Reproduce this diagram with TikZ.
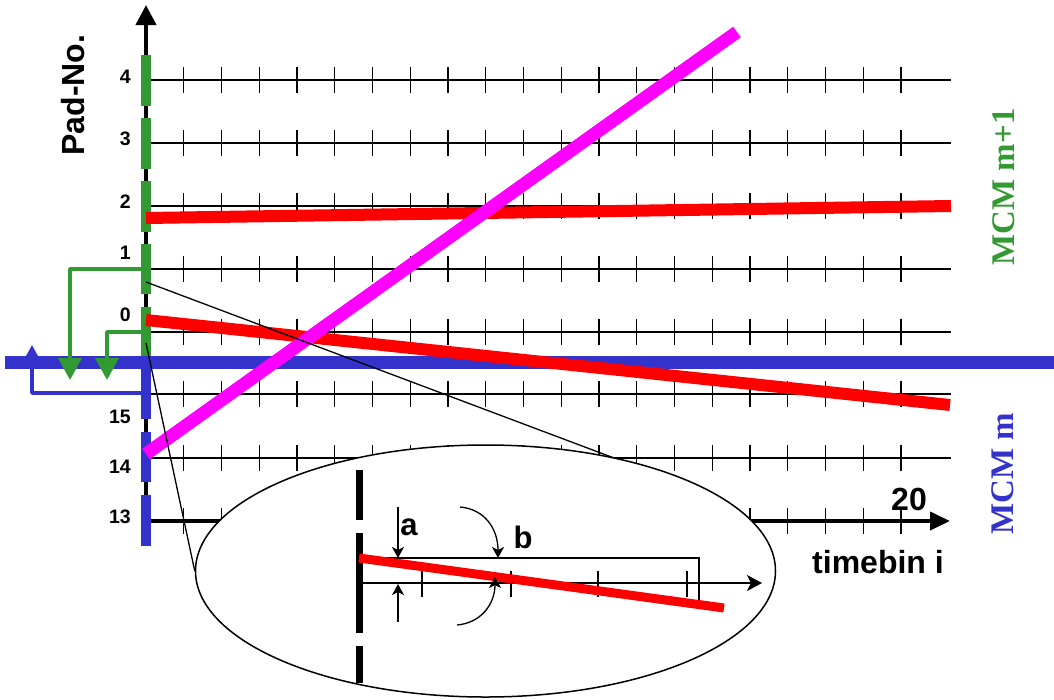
\documentclass[tikz,border=0pt]{standalone}
\usepackage{fontspec}
\setmainfont{Liberation Sans}
\newfontfamily\mcmfont{Liberation Serif}
\usetikzlibrary{arrows.meta,shapes.geometric}
\definecolor{padgreen}{RGB}{51,153,51}
\definecolor{padblue}{RGB}{51,51,204}
\definecolor{trkred}{RGB}{255,0,0}
\definecolor{trkmag}{RGB}{255,0,255}
\begin{document}
\begin{tikzpicture}[x=1pt,y=-1pt,
  gridline/.style={line width=1.3pt},
  tickmark/.style={line width=1.3pt},
  axisline/.style={line width=4pt},
  padseg/.style={line width=10pt},
  track/.style={line width=12pt},
  bracket/.style={line width=3.8pt, line join=round},
  bigtip/.style={-{Triangle[length=22pt,width=23pt]}},
  smalltip/.style={-{Stealth[length=11pt,width=12pt,inset=3pt]}},
  thinline/.style={line width=1.3pt},
  padlbl/.style={font=\fontsize{19.5}{22}\selectfont\bfseries, anchor=base east, inner sep=0pt},
  biglbl/.style={font=\fontsize{32}{36}\selectfont\bfseries, inner sep=0pt},
  midlbl/.style={font=\fontsize{31}{34}\selectfont\bfseries, inner sep=0pt, anchor=base},
  mcmlbl/.style={font=\mcmfont\fontsize{33}{36}\selectfont\bfseries, rotate=90, inner sep=0pt}
]
\useasboundingbox (0,0) rectangle (1054,699);

% grid rows
\foreach \r in {80,143,206,269,332,394,458} {
  \draw[gridline] (146,\r) -- (951,\r);
  \foreach \k in {1,...,20}
    \draw[tickmark] ({146+\k*37.75},{\r-13}) -- ({146+\k*37.75},{\r+13});
}
% timebin axis
\coordinate (torig) at (146,521);
\coordinate (tend) at (950,521);
\draw[axisline,-{Triangle[length=20pt,width=18pt]}] (torig) -- (tend);
\foreach \k in {1,...,20}
  \draw[tickmark] ({146+\k*37.75},508) -- ({146+\k*37.75},534);
% pad axis
\coordinate (porig) at (146,546);
\coordinate (pend) at (146,5);
\draw[axisline,-{Triangle[length=20pt,width=20pt]}] (porig) -- (pend);

% pad segments
\foreach \a/\b in {55/106,118/169,181/232,244/294,307/357}
  \draw[padseg,padgreen] (146,\a) -- (146,\b);
\foreach \a/\b in {369/419,432/482,495/546}
  \draw[padseg,padblue] (146,\a) -- (146,\b);

% blue bracket (under the MCM boundary)
\coordinate (bb1) at (146,393);
\coordinate (bb2) at (32,393);
\coordinate (bb3) at (32,345);
\draw[bracket,padblue,bigtip] (bb1) -- (bb2) -- (bb3);

% MCM boundary
\coordinate (bl1) at (5,362);
\coordinate (bl2) at (1054,362);
\draw[line width=13pt,padblue] (bl1) -- (bl2);

% green brackets
\coordinate (gA1) at (146,269);
\coordinate (gA2) at (70,269);
\coordinate (gA3) at (70,380);
\coordinate (gB1) at (146,332);
\coordinate (gB2) at (107,332);
\coordinate (gB3) at (107,380);
\draw[bracket,padgreen,bigtip] (gA1) -- (gA2) -- (gA3);
\draw[bracket,padgreen,bigtip] (gB1) -- (gB2) -- (gB3);

% tracks
\coordinate (r1a) at (146,218);
\coordinate (r1b) at (951,206);
\coordinate (r2a) at (146,320);
\coordinate (r2b) at (950,405);
\coordinate (m1a) at (146,454);
\coordinate (m1b) at (737,32);
\draw[track,trkred] (r1a) -- (r1b);
\draw[track,trkred] (r2a) -- (r2b);
\draw[line width=13pt,trkmag] (m1a) -- (m1b);

% zoom lens
\coordinate (z1) at (146,282);
\coordinate (z2) at (146,343);
\coordinate (tan) at (622,461);
\draw[thinline] (z1) -- (tan);
\node[draw, ellipse, line width=1.5pt, fill=white, minimum width=580pt, minimum height=252pt, inner sep=0pt] (lens) at (485.5,571) {};
\draw[thinline] (z2) -- (lens.west);

% inside lens
\foreach \a/\b in {470/520,533/633,646/683}
  \draw[line width=7pt] (359,\a) -- (359,\b);
\coordinate (br1) at (359,558);
\coordinate (br2) at (699,558);
\coordinate (br3) at (699,600);
\draw[thinline] (br1) -- (br2) -- (br3);
\coordinate (ia1) at (359,583);
\coordinate (ia2) at (762,583);
\draw[thinline,-{Stealth[length=15pt,width=16pt,inset=4pt]}] (ia1) -- (ia2);
\foreach \x in {422,511,598,687}
  \draw[thinline] (\x,571) -- (\x,597);
\coordinate (ir1) at (359,558);
\coordinate (ir2) at (724,608);
\draw[line width=9pt,trkred] (ir1) -- (ir2);
% arrows a
\coordinate (aa1) at (398,507);
\coordinate (aa2) at (398,558);
\coordinate (ab1) at (398,622);
\coordinate (ab2) at (398,584);
\draw[thinline,smalltip] (aa1) -- (aa2);
\draw[thinline,smalltip] (ab1) -- (ab2);
% arrows b
\coordinate (ba1) at (460,507);
\coordinate (ba2) at (498,558);
\coordinate (bb1x) at (457,625);
\coordinate (bb2x) at (495,577);
\draw[thinline,smalltip] (ba1) .. controls (484,509) and (498,528) .. (ba2);
\draw[thinline,smalltip] (bb1x) .. controls (481,623) and (495,604) .. (bb2x);

% labels
\node[midlbl] (la) at (409,535) {a};
\node[midlbl] (lb) at (523,548) {b};

\node[padlbl] (p4) at (131,83) {4};
\node[padlbl] (p3) at (131,145.5) {3};
\node[padlbl] (p2) at (131,208.5) {2};
\node[padlbl] (p1) at (131,259) {1};
\node[padlbl] (p0) at (131,321.5) {0};
\node[padlbl] (p15) at (131,423) {15};
\node[padlbl] (p14) at (131,473) {14};
\node[padlbl] (p13) at (131,523) {13};

\node[biglbl, rotate=90] (padno) at (73,95) {Pad-No.};
\node[biglbl, anchor=base] (l20) at (909,510) {20};
\node[biglbl, anchor=base] (ltb) at (878,573) {timebin i};

\node[mcmlbl, text=padgreen] (mcm1) at (1004,187) {MCM m+1};
\node[mcmlbl, text=padblue] (mcm0) at (1003,474) {MCM m};
\end{tikzpicture}
\end{document}
